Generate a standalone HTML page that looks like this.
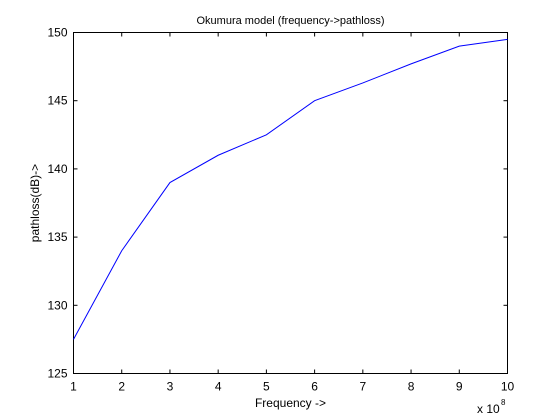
<!DOCTYPE html>
<html><head><style>
body{margin:0;background:#fff;}
svg{display:block;font-family:"Liberation Sans",sans-serif;}
</style></head><body>
<svg id="chart" width="560" height="420">
<rect width="560" height="420" fill="#fff"/>
<g id="g"></g>
</svg>
<script>
const xValues=[1,2,3,4,5,6,7,8,9,10];
const yValues=[127.5,134,139,141,142.5,145,146.3,147.7,149,149.5];
const xTicks=[1,2,3,4,5,6,7,8,9,10];
const yTicks=[125,130,135,140,145,150];
const L=73.5,R=507.5,T=32.5,B=373.5;
const sx=v=>L+(v-1)/9*(R-L);
const sy=v=>B-(v-125)/25*(B-T);
const NS="http://www.w3.org/2000/svg";
const g=document.getElementById('g');
function mk(t,a,txt){const e=document.createElementNS(NS,t);for(const k in a)e.setAttribute(k,a[k]);if(txt!==undefined)e.textContent=txt;g.appendChild(e);return e;}
const box=mk('rect',{x:L,y:T,width:R-L,height:B-T,fill:'#fff',stroke:'#000','stroke-width':1});


xTicks.forEach(v=>{const x=sx(v);
mk('line',{x1:x,x2:x,y1:B,y2:B-4,stroke:'#000'});mk('line',{x1:x,x2:x,y1:T,y2:T+4,stroke:'#000'});
const t=mk('text',{x:x,y:B+17,'text-anchor':'middle','font-size':12},v);

});
yTicks.forEach(v=>{const y=sy(v);
mk('line',{x1:L,x2:L+4,y1:y,y2:y,stroke:'#000'});mk('line',{x1:R,x2:R-4,y1:y,y2:y,stroke:'#000'});
const t=mk('text',{x:L-6,y:y+4,'text-anchor':'end','font-size':12},v);

});
const pts=xValues.map((x,i)=>sx(x)+','+sy(yValues[i])).join(' ');
const line=mk('polyline',{points:pts,fill:'none',stroke:'#0000ff','stroke-width':1});


const title=mk('text',{x:(L+R)/2,y:24,'text-anchor':'middle','font-size':11},'Okumura model (frequency->pathloss)');


const xl=mk('text',{x:(L+R)/2,y:407,'text-anchor':'middle','font-size':12},'Frequency ->');


const yl=mk('text',{x:0,y:0,'text-anchor':'middle','font-size':12,transform:'translate(39,'+((T+B)/2)+') rotate(-90)'},'pathloss(dB)->');


const ex=mk('text',{x:477,y:413,'font-size':12},'x 10');


const e8=mk('text',{x:501,y:405,'font-size':8},'8');


</script>
</body></html>
